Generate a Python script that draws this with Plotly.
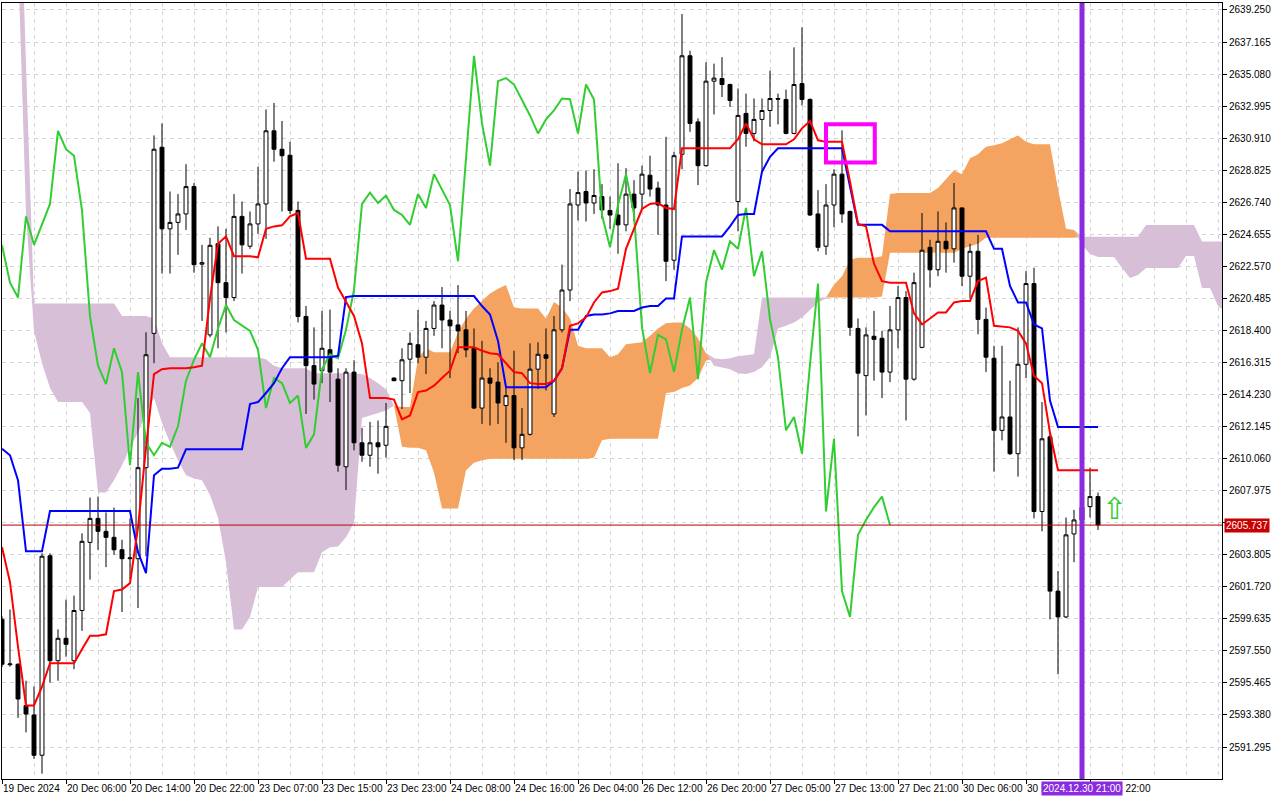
import plotly.graph_objs as go

# hourly bars, bar index = slot on the time axis
opens = [2599.60, 2596.65, 2596.68, 2593.99, 2593.38, 2590.76, 2603.74, 2596.91, 2598.37, 2596.91,
         2600.18, 2604.61, 2606.17, 2605.33, 2604.94, 2604.13, 2603.55, 2603.55, 2609.47, 2618.21,
         2630.32, 2625.01, 2625.43, 2625.98, 2627.76, 2622.71, 2618.11, 2624.04, 2621.51, 2620.54,
         2625.82, 2623.88, 2625.33, 2626.63, 2631.39, 2630.19, 2629.80, 2626.21, 2619.31, 2616.11,
         2615.78, 2617.14, 2615.23, 2609.53, 2615.69, 2611.09, 2610.28, 2611.09, 2610.93, 2615.30,
         2615.13, 2616.53, 2617.47, 2616.66, 2618.53, 2620.05, 2619.08, 2618.76, 2618.44, 2617.24,
         2613.35, 2615.30, 2615.04, 2613.52, 2614.16, 2610.76, 2611.64, 2615.88, 2616.82, 2612.97,
         2618.44, 2621.03, 2626.56, 2627.44, 2626.69, 2627.11, 2626.21, 2625.91, 2625.27, 2627.27,
         2627.27, 2628.50, 2627.66, 2626.56, 2622.97, 2629.86, 2636.27, 2631.97, 2629.12, 2634.62,
         2634.79, 2634.40, 2626.79, 2632.52, 2631.22, 2632.13, 2632.71, 2633.49, 2633.43, 2631.22,
         2634.46, 2633.43, 2625.98, 2623.88, 2626.56, 2628.57, 2626.14, 2618.53, 2615.46, 2618.02,
         2617.89, 2615.69, 2618.44, 2620.54, 2615.23, 2617.30, 2623.81, 2622.35, 2624.20, 2623.71,
         2626.37, 2621.93, 2623.55, 2619.12, 2616.59, 2611.90, 2612.77, 2610.38, 2616.20, 2621.45,
         2606.62, 2611.48, 2601.44, 2599.76, 2605.16, 2606.07, 2606.94, 2607.59]
highs = [2599.80, 2600.24, 2596.75, 2595.61, 2595.23, 2603.90, 2603.90, 2598.95, 2600.89, 2601.15,
         2605.20, 2607.53, 2607.59, 2606.56, 2606.88, 2604.78, 2606.17, 2614.00, 2618.28, 2631.09,
         2631.87, 2627.44, 2627.27, 2629.22, 2627.99, 2623.97, 2624.43, 2625.17, 2625.01, 2627.27,
         2626.79, 2626.14, 2629.05, 2632.78, 2633.20, 2632.03, 2630.67, 2626.79, 2619.99, 2618.60,
         2619.67, 2619.76, 2615.94, 2615.94, 2616.46, 2612.06, 2612.45, 2612.54, 2613.68, 2615.35,
         2617.24, 2618.27, 2619.73, 2619.02, 2620.31, 2621.22, 2619.67, 2621.35, 2619.67, 2618.53,
         2617.72, 2615.94, 2616.33, 2614.71, 2617.08, 2613.35, 2617.56, 2617.63, 2618.53, 2619.34,
         2622.68, 2627.60, 2628.73, 2628.80, 2628.89, 2627.92, 2627.11, 2629.28, 2628.96, 2628.18,
         2629.12, 2629.77, 2628.08, 2631.00, 2630.03, 2638.99, 2636.60, 2632.20, 2635.85, 2635.76,
         2636.18, 2634.46, 2634.14, 2633.81, 2633.49, 2633.49, 2635.30, 2633.81, 2634.07, 2636.82,
         2638.12, 2633.50, 2627.53, 2627.92, 2628.89, 2631.42, 2626.20, 2619.18, 2618.60, 2619.67,
         2618.37, 2619.99, 2621.29, 2620.96, 2622.16, 2626.04, 2624.30, 2626.14, 2625.43, 2627.99,
         2626.40, 2624.04, 2624.62, 2619.89, 2617.40, 2617.40, 2615.13, 2618.60, 2622.26, 2622.48,
         2613.74, 2611.67, 2602.74, 2606.23, 2606.72, 2607.50, 2609.47, 2607.85]
lows = [2596.50, 2596.52, 2593.19, 2592.25, 2590.53, 2589.56, 2595.48, 2595.61, 2597.17, 2596.36,
        2598.85, 2602.19, 2604.13, 2603.00, 2603.80, 2600.08, 2602.19, 2600.34, 2603.71, 2616.27,
        2622.10, 2622.10, 2623.32, 2624.94, 2622.16, 2619.02, 2617.95, 2617.24, 2618.27, 2620.31,
        2622.10, 2623.71, 2624.68, 2624.36, 2629.38, 2626.14, 2625.98, 2618.92, 2612.97, 2613.90,
        2614.97, 2613.74, 2609.21, 2608.01, 2610.60, 2609.86, 2609.53, 2609.08, 2610.12, 2615.10,
        2613.29, 2614.33, 2616.27, 2615.56, 2618.05, 2617.24, 2615.30, 2616.92, 2616.66, 2613.29,
        2612.32, 2612.22, 2612.32, 2611.09, 2609.96, 2609.96, 2611.57, 2614.58, 2614.49, 2612.77,
        2618.27, 2620.31, 2625.56, 2625.49, 2625.98, 2625.66, 2625.01, 2623.39, 2624.85, 2625.49,
        2626.30, 2627.11, 2624.62, 2621.61, 2622.35, 2628.89, 2631.32, 2627.86, 2629.06, 2632.45,
        2633.59, 2632.94, 2624.85, 2630.35, 2630.70, 2628.73, 2631.65, 2631.81, 2631.16, 2631.16,
        2633.04, 2625.85, 2623.55, 2623.32, 2625.11, 2625.40, 2618.05, 2611.51, 2612.87, 2615.13,
        2614.00, 2615.04, 2617.24, 2612.54, 2615.13, 2617.24, 2621.19, 2621.93, 2622.16, 2622.81,
        2621.29, 2620.48, 2618.15, 2615.69, 2609.21, 2611.25, 2610.30, 2608.89, 2615.30, 2606.17,
        2605.33, 2599.60, 2596.03, 2599.69, 2603.32, 2605.60, 2606.23, 2605.42]
closes = [2596.68, 2596.70, 2594.42, 2593.44, 2590.76, 2603.71, 2596.91, 2598.37, 2597.98, 2600.18,
          2604.68, 2606.17, 2605.33, 2604.94, 2604.13, 2603.55, 2603.60, 2609.47, 2616.82, 2630.19,
          2625.01, 2625.43, 2625.98, 2627.76, 2622.68, 2622.81, 2623.94, 2621.51, 2620.54, 2625.82,
          2623.97, 2625.33, 2626.63, 2631.39, 2630.19, 2629.77, 2626.21, 2619.31, 2616.11, 2614.91,
          2617.24, 2615.69, 2609.63, 2615.69, 2611.09, 2610.28, 2611.09, 2610.83, 2612.16, 2615.13,
          2616.49, 2617.56, 2616.66, 2618.53, 2620.05, 2619.08, 2618.70, 2618.37, 2617.14, 2613.35,
          2615.30, 2614.97, 2613.68, 2614.16, 2610.76, 2611.64, 2615.88, 2616.85, 2616.59, 2618.44,
          2621.03, 2626.63, 2627.37, 2626.69, 2627.18, 2626.24, 2625.91, 2625.27, 2627.27, 2626.37,
          2628.57, 2627.60, 2626.56, 2622.90, 2629.77, 2636.27, 2631.87, 2629.12, 2634.62, 2634.82,
          2634.40, 2633.36, 2632.39, 2631.22, 2632.13, 2632.71, 2633.49, 2633.45, 2631.22, 2634.40,
          2633.43, 2625.91, 2623.81, 2626.56, 2628.57, 2625.98, 2618.60, 2615.62, 2618.11, 2617.82,
          2615.69, 2618.44, 2620.54, 2615.23, 2621.51, 2623.62, 2622.35, 2624.20, 2623.71, 2626.37,
          2621.93, 2623.55, 2619.12, 2616.66, 2611.90, 2612.77, 2610.38, 2616.20, 2621.45, 2606.62,
          2611.35, 2601.44, 2599.76, 2605.10, 2606.07, 2606.90, 2607.59, 2605.74]

# Ichimoku lines as drawn
tenkan = [2604.29, 2602.02, 2597.82, 2594.00, 2594.00, 2595.23, 2596.75, 2596.75, 2596.75, 2596.75,
          2597.66, 2598.53, 2598.53, 2598.63, 2601.44, 2601.54, 2601.96, 2605.58, 2610.76, 2615.56,
          2615.88, 2615.94, 2615.94, 2615.94, 2616.01, 2616.11, 2620.48, 2624.04, 2624.52, 2623.23,
          2623.23, 2623.23, 2623.16, 2625.01, 2625.17, 2625.24, 2625.82, 2626.04, 2623.07, 2623.07,
          2623.07, 2623.07, 2621.19, 2620.31, 2619.34, 2617.56, 2614.00, 2614.00, 2614.00, 2613.90,
          2612.61, 2612.87, 2614.39, 2614.49, 2614.81, 2615.30, 2615.78, 2617.30, 2617.30, 2617.30,
          2617.08, 2616.92, 2616.85, 2616.27, 2615.69, 2615.62, 2614.97, 2614.91, 2614.91, 2615.13,
          2615.94, 2618.70, 2618.86, 2619.25, 2620.22, 2620.87, 2620.96, 2621.12, 2623.71, 2625.01,
          2626.30, 2626.63, 2626.69, 2626.37, 2626.30, 2630.25, 2630.25, 2630.25, 2630.25, 2630.25,
          2630.25, 2630.25, 2630.84, 2631.87, 2630.84, 2630.51, 2630.51, 2630.51, 2630.51, 2630.84,
          2631.55, 2632.03, 2630.77, 2630.67, 2630.67, 2630.67, 2628.08, 2625.33, 2625.17, 2622.74,
          2621.61, 2621.51, 2621.51, 2621.51, 2619.51, 2618.79, 2619.18, 2619.57, 2619.57, 2620.22,
          2620.31, 2620.31, 2621.61, 2621.84, 2618.70, 2618.63, 2618.60, 2618.37, 2617.56, 2615.46,
          2614.97, 2611.74, 2609.31, 2609.31, 2609.31, 2609.31, 2609.31, 2609.31]
kijun = [2610.70, 2610.28, 2608.66, 2604.03, 2604.03, 2604.03, 2606.65, 2606.65, 2606.65, 2606.65,
         2606.65, 2606.65, 2606.65, 2606.65, 2606.65, 2606.65, 2606.65, 2603.97, 2602.61, 2608.98,
         2609.40, 2609.40, 2609.47, 2610.67, 2610.67, 2610.67, 2610.67, 2610.67, 2610.67, 2610.67,
         2610.67, 2613.61, 2613.74, 2614.33, 2614.97, 2615.94, 2616.66, 2616.66, 2616.66, 2616.66,
         2616.66, 2616.66, 2616.75, 2620.57, 2620.64, 2620.64, 2620.64, 2620.64, 2620.64, 2620.64,
         2620.64, 2620.64, 2620.64, 2620.64, 2620.64, 2620.64, 2620.64, 2620.64, 2620.64, 2620.64,
         2619.99, 2619.44, 2617.72, 2614.71, 2614.71, 2614.71, 2614.71, 2614.71, 2614.71, 2615.13,
         2615.94, 2618.44, 2618.44, 2619.34, 2619.44, 2619.44, 2619.51, 2619.67, 2619.67, 2619.67,
         2619.89, 2619.99, 2619.99, 2620.48, 2620.48, 2624.52, 2624.52, 2624.52, 2624.52, 2624.52,
         2624.52, 2625.17, 2625.91, 2625.98, 2625.98, 2628.73, 2629.70, 2630.25, 2630.25, 2630.25,
         2630.25, 2630.25, 2630.25, 2630.25, 2630.25, 2630.25, 2627.76, 2625.27, 2625.27, 2625.27,
         2625.27, 2624.85, 2624.85, 2624.85, 2624.85, 2624.85, 2624.85, 2624.85, 2624.85, 2624.85,
         2624.85, 2624.85, 2624.85, 2624.85, 2623.71, 2623.71, 2621.29, 2620.22, 2620.22, 2618.79,
         2618.53, 2613.84, 2612.12, 2612.12, 2612.12, 2612.12, 2612.12, 2612.12]

# senkou spans as displayed (already pushed 26 bars ahead)
senkou_a = [2650.00, 2647.00, 2642.70, 2625.98, 2618.37, 2616.27, 2614.65, 2613.74, 2613.74, 2613.74,
            2613.74, 2613.03, 2607.85, 2607.85, 2608.66, 2609.63, 2610.76, 2611.74, 2613.03, 2614.00,
            2612.38, 2611.09, 2609.96, 2608.98, 2608.76, 2608.66, 2607.69, 2606.23, 2603.32, 2598.95,
            2598.95, 2599.76, 2601.70, 2601.70, 2601.70, 2601.70, 2602.19, 2602.67, 2602.67, 2602.67,
            2603.97, 2604.29, 2604.35, 2604.94, 2605.91, 2612.71, 2612.87, 2613.03, 2613.19, 2613.50,
            2613.42, 2613.42, 2616.59, 2617.24, 2616.98, 2616.98, 2616.98, 2618.27, 2619.18, 2619.83,
            2620.31, 2620.80, 2621.12, 2621.35, 2619.89, 2619.83, 2619.83, 2619.83, 2619.18, 2620.25,
            2619.89, 2619.18, 2617.40, 2617.24, 2617.24, 2617.24, 2616.66, 2616.85, 2617.50, 2617.56,
            2617.63, 2618.05, 2618.53, 2618.86, 2618.92, 2618.92, 2618.53, 2617.89, 2616.92, 2616.11,
            2616.01, 2615.88, 2615.62, 2615.56, 2615.69, 2616.01, 2616.66, 2618.53, 2618.70, 2618.92,
            2619.25, 2619.76, 2620.22, 2620.48, 2621.38, 2621.93, 2623.00, 2623.13, 2623.13, 2623.13,
            2623.23, 2627.27, 2627.34, 2627.34, 2627.34, 2627.34, 2627.34, 2627.66, 2628.25, 2628.83,
            2628.57, 2629.61, 2629.86, 2630.35, 2630.45, 2630.58, 2630.84, 2631.09, 2630.67, 2630.51,
            2630.51, 2630.51, 2627.60, 2625.01, 2624.94, 2623.96, 2623.38, 2623.18, 2623.18, 2623.18,
            2622.46, 2621.81, 2622.01, 2622.46, 2622.46, 2622.46, 2622.46, 2622.46, 2623.24, 2623.24,
            2621.16, 2621.16, 2619.99, 2619.60]
senkou_b = [2660.00, 2656.50, 2652.40, 2635.72, 2620.15, 2620.15, 2620.15, 2620.15, 2620.15, 2620.15,
            2620.15, 2620.15, 2620.15, 2620.15, 2620.15, 2619.34, 2619.34, 2619.34, 2619.34, 2619.18,
            2617.56, 2616.66, 2616.66, 2616.66, 2616.66, 2616.66, 2616.66, 2616.66, 2616.66, 2616.66,
            2616.66, 2616.66, 2616.66, 2616.53, 2616.11, 2615.94, 2615.94, 2615.94, 2615.94, 2615.62,
            2615.62, 2615.62, 2615.62, 2615.62, 2615.62, 2615.56, 2615.30, 2614.97, 2614.58, 2613.50,
            2610.83, 2610.76, 2610.76, 2610.60, 2609.15, 2606.81, 2606.81, 2606.81, 2609.31, 2609.79,
            2609.96, 2610.05, 2610.05, 2610.05, 2610.05, 2610.05, 2610.05, 2610.05, 2610.05, 2610.05,
            2610.05, 2610.05, 2610.05, 2610.05, 2610.12, 2611.25, 2611.35, 2611.35, 2611.35, 2611.35,
            2611.35, 2611.35, 2611.35, 2614.33, 2614.39, 2614.65, 2614.81, 2615.30, 2616.43, 2616.59,
            2616.53, 2616.59, 2616.72, 2616.79, 2616.85, 2620.54, 2620.54, 2620.54, 2620.54, 2620.54,
            2620.54, 2620.54, 2620.54, 2620.54, 2620.54, 2620.54, 2620.54, 2620.54, 2620.54, 2620.54,
            2620.61, 2623.45, 2623.45, 2623.45, 2623.45, 2623.45, 2623.45, 2623.45, 2623.45, 2623.45,
            2623.71, 2623.88, 2624.04, 2624.43, 2624.43, 2624.43, 2624.43, 2624.43, 2624.43, 2624.43,
            2624.43, 2624.43, 2624.43, 2624.43, 2624.43, 2624.50, 2624.50, 2624.50, 2624.50, 2624.50,
            2624.50, 2624.50, 2624.50, 2625.26, 2625.26, 2625.26, 2625.26, 2625.26, 2625.26, 2625.26,
            2624.18, 2624.18, 2624.18, 2624.18]
chikou_shift = 26

time_ticks = [0, 8, 16, 24, 32, 40, 48, 56, 64, 72, 80, 88, 96, 104, 112, 120, 128, 136]
time_labels = ["19 Dec 2024", "20 Dec 06:00", "20 Dec 14:00", "20 Dec 22:00", "23 Dec 07:00",
               "23 Dec 15:00", "23 Dec 23:00", "24 Dec 08:00", "24 Dec 16:00", "26 Dec 04:00",
               "26 Dec 12:00", "26 Dec 20:00", "27 Dec 05:00", "27 Dec 13:00", "27 Dec 21:00",
               "30 Dec 06:00", "30 Dec 14:00", "30 Dec 22:00"]

price_ticks = [2591.295, 2593.380, 2595.465, 2597.550, 2599.635, 2601.720, 2603.805, 2605.890,
               2607.975, 2610.060, 2612.145, 2614.230, 2616.315, 2618.400, 2620.485, 2622.570,
               2624.655, 2626.740, 2628.825, 2630.910, 2632.995, 2635.080, 2637.165, 2639.250]

bid_price = 2605.737
marker_bar = 135
marker_label = "2024.12.30 21:00"
signal_bar = 139
signal_price = 2606.8
box_bars = [103, 109.1]
box_prices = [2629.32, 2631.81]

price_range = [2589.215, 2639.705]
bar_range = [0, 152.5]

bars = list(range(len(closes)))
cloud_x = list(range(len(senkou_a)))
cloud_top = [max(a, b) for a, b in zip(senkou_a, senkou_b)]
price_text = ["" if abs(p - bid_price) < 0.5 else "%.3f" % p for p in price_ticks]

no_line = dict(width=0)
data = [
    # sandybrown part: senkou A above B
    go.Scatter(x=cloud_x, y=senkou_b, mode='lines', line=no_line, hoverinfo='skip'),
    go.Scatter(x=cloud_x, y=cloud_top, mode='lines', line=no_line, fill='tonexty',
               fillcolor='#F4A460', hoverinfo='skip'),
    # thistle part: senkou B above A
    go.Scatter(x=cloud_x, y=senkou_a, mode='lines', line=no_line, hoverinfo='skip'),
    go.Scatter(x=cloud_x, y=cloud_top, mode='lines', line=no_line, fill='tonexty',
               fillcolor='#D8BFD8', hoverinfo='skip'),
    go.Candlestick(x=bars, open=opens, high=highs, low=lows, close=closes,
                   yaxis='y2', whiskerwidth=0,
                   increasing=dict(fillcolor='white', line=dict(color='black', width=1)),
                   decreasing=dict(fillcolor='black', line=dict(color='black', width=1))),
    go.Scatter(x=bars[:len(closes) - chikou_shift], y=closes[chikou_shift:], yaxis='y2',
               mode='lines', line=dict(color='#32CD32', width=2)),
    go.Scatter(x=bars, y=kijun, yaxis='y2', mode='lines', line=dict(color='#0000FF', width=2)),
    go.Scatter(x=bars, y=tenkan, yaxis='y2', mode='lines', line=dict(color='#FF0000', width=2)),
]

grid = dict(showgrid=True, gridcolor='#d4d4d4', gridwidth=1, griddash='4px,4px')

layout = go.Layout(
    width=1280, height=800,
    margin=dict(l=2, r=58, t=3, b=21),
    paper_bgcolor='white', plot_bgcolor='white',
    showlegend=False,
    font=dict(family='Liberation Sans', size=10, color='black'),
    xaxis=dict(range=bar_range, tickvals=time_ticks, ticktext=time_labels, tickangle=0,
               ticks='outside', ticklen=4, tickcolor='black', ticklabelposition='outside right',
               showline=True, linecolor='black', linewidth=1, mirror=True, zeroline=False,
               minor=dict(dtick=4, tick0=0, **grid), rangeslider=dict(visible=False), **grid),
    yaxis=dict(side='right', range=price_range, tickvals=price_ticks, ticktext=price_text,
               ticks='outside', ticklen=4, tickcolor='black',
               showline=True, linecolor='black', linewidth=1, mirror=True, zeroline=False, **grid),
    yaxis2=dict(overlaying='y', side='right', range=price_range, visible=False),
    shapes=[
        dict(type='line', xref='paper', x0=0, x1=1, yref='y', y0=bid_price, y1=bid_price,
             line=dict(color='#B80000', width=1)),
        dict(type='line', xref='x', x0=marker_bar, x1=marker_bar, yref='paper', y0=0, y1=1,
             line=dict(color='#8A2BE2', width=5)),
        dict(type='rect', xref='x', x0=box_bars[0], x1=box_bars[1], yref='y',
             y0=box_prices[0], y1=box_prices[1], line=dict(color='#FF00FF', width=4)),
    ],
    annotations=[
        dict(xref='paper', x=1, xanchor='left', xshift=2, yref='y', y=bid_price,
             text="%.3f" % bid_price, showarrow=False, bgcolor='#C80000', borderpad=1,
             font=dict(color='white', size=10)),
        dict(xref='x', x=marker_bar, yref='paper', y=0, yanchor='top', yshift=-2,
             text=marker_label, showarrow=False, bgcolor='#8A2BE2', borderpad=1,
             font=dict(color='white', size=10)),
        dict(xref='x', x=signal_bar, yref='y', y=signal_price, text="\u21e7", showarrow=False,
             font=dict(color='#32CD32', size=30, family='DejaVu Sans')),
    ],
)

fig = go.Figure(data=data, layout=layout)
fig.write_html("out.html", config={'displayModeBar': False},
               post_script="document.body.style.margin = '0';")
